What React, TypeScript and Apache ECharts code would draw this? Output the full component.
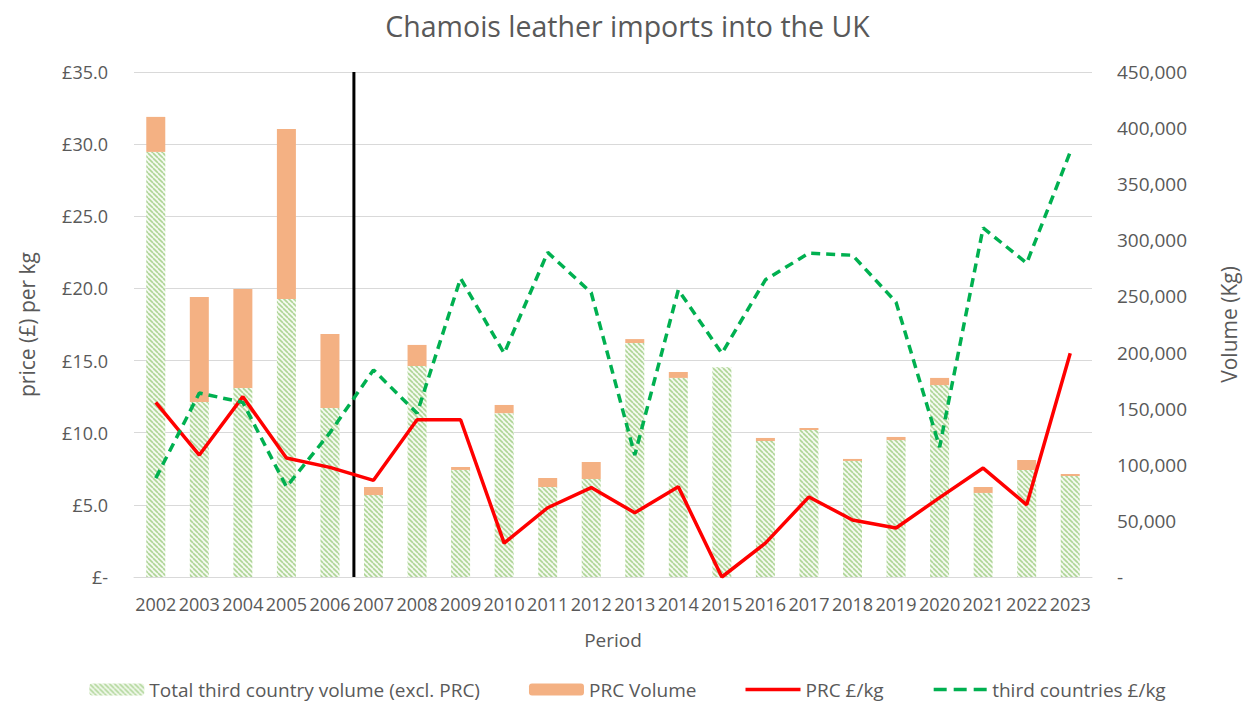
import React, { useEffect, useRef } from "react";
import * as echarts from "echarts";

const years = ["2002","2003","2004","2005","2006","2007","2008","2009","2010","2011","2012","2013","2014","2015","2016","2017","2018","2019","2020","2021","2022","2023"];
const thirdVolume = [378800,156000,168400,247800,150600,73000,188000,95400,146000,80200,87300,208500,177400,187000,121200,131000,103400,122000,171000,74900,95400,90000];
const prcVolume = [31200,93600,88300,151500,66000,7200,18800,2600,7300,8000,15200,3500,5300,0,2700,1800,1800,2800,6400,5300,8900,1800];
const prcPrice = [12.1,8.45,12.5,8.25,7.6,6.7,10.9,10.9,2.35,4.8,6.2,4.45,6.25,0,2.35,5.55,3.95,3.4,5.5,7.55,5.0,15.5];
const thirdPrice = [6.85,12.75,12.1,6.25,10.0,14.35,11.35,20.7,15.5,22.5,19.7,8.45,19.9,15.5,20.6,22.45,22.3,19.05,9.0,24.2,21.75,29.45];
// divider between 2006 and 2007 (category index position), spanning the full price axis
const dividerLine = [[4.55, 0], [4.55, 35]];

const FONT = "Open Sans";
const GREY = "#595959";

const solidIcon = "path://M0,0L0.01,0Z M0,12L0.01,12Z M0,4.3H55V7.7H0Z";
const dashIcon = "path://M0,0L0.01,0Z M0,12L0.01,12Z M1,4.3H14V7.7H1Z M21,4.3H34V7.7H21Z M41,4.3H54V7.7H41Z";

function makeHatch(): HTMLCanvasElement {
  const s = 5;
  const c = document.createElement("canvas");
  c.width = s;
  c.height = s;
  const ctx = c.getContext("2d")!;
  ctx.fillStyle = "#f5faf1";
  ctx.fillRect(0, 0, s, s);
  ctx.strokeStyle = "#aed596";
  ctx.lineWidth = 1.6;
  for (const k of [-s, 0, s]) {
    ctx.beginPath();
    ctx.moveTo(k, 0);
    ctx.lineTo(k + s, s);
    ctx.stroke();
  }
  return c;
}

export default function App() {
  const ref = useRef<HTMLDivElement>(null);
  useEffect(() => {
    if (!ref.current) return;
    const chart = echarts.init(ref.current, null, { renderer: "svg" });
    const hatch = { image: makeHatch(), repeat: "repeat" };
    chart.setOption({
      animation: false,
      backgroundColor: "#fff",
      textStyle: { fontFamily: FONT, color: GREY },
      title: {
        text: "Chamois leather imports into the UK",
        left: "center",
        top: 3,
        padding: 0,
        textStyle: { fontFamily: FONT, fontSize: 28.5, fontWeight: "normal", color: GREY },
      },
      legend: {
        bottom: 1,
        left: "center",
        itemWidth: 55,
        itemHeight: 12,
        itemGap: 49,
        textStyle: { fontFamily: FONT, fontSize: 19, color: GREY },
        data: [
          { name: "Total third country volume (excl. PRC)" },
          { name: "PRC Volume" },
          { name: "PRC £/kg", icon: solidIcon },
          { name: "third countries £/kg", icon: dashIcon },
        ],
      },
      grid: { left: 108, right: 134, top: 64, bottom: 128 },
      xAxis: [
        {
          type: "category",
          data: years,
          name: "Period",
          nameLocation: "middle",
          nameGap: 53,
          nameTextStyle: { fontFamily: FONT, fontSize: 19, color: GREY },
          axisLine: { lineStyle: { color: "#d9d9d9" } },
          axisTick: { show: false },
          axisLabel: { fontFamily: FONT, fontSize: 18, color: GREY, margin: 18, interval: 0 },
        },
        { type: "value", min: -0.5, max: 21.5, show: false },
      ],
      yAxis: [
        {
          type: "value",
          min: 0,
          max: 35,
          interval: 5,
          name: "price (£) per kg",
          nameLocation: "middle",
          nameGap: 97,
          nameTextStyle: { fontFamily: FONT, fontSize: 21, color: GREY },
          axisLine: { show: false },
          axisTick: { show: false },
          splitLine: { lineStyle: { color: "#d9d9d9" } },
          axisLabel: {
            fontFamily: FONT,
            fontSize: 18,
            color: GREY,
            margin: 26,
            formatter: (v: number) => (v === 0 ? "£-" : "£" + v.toFixed(1)),
          },
        },
        {
          type: "value",
          min: 0,
          max: 450000,
          interval: 50000,
          name: "Volume (Kg)",
          nameLocation: "middle",
          nameGap: 126,
          nameTextStyle: { fontFamily: FONT, fontSize: 21, color: GREY },
          axisLine: { show: false },
          axisTick: { show: false },
          splitLine: { show: false },
          axisLabel: {
            fontFamily: FONT,
            fontSize: 19,
            color: GREY,
            margin: 25,
            formatter: (v: number) => (v === 0 ? "-" : v.toLocaleString("en-US")),
          },
        },
      ],
      series: [
        {
          name: "Total third country volume (excl. PRC)",
          type: "bar",
          stack: "vol",
          yAxisIndex: 1,
          barWidth: 19,
          data: thirdVolume,
          itemStyle: { color: hatch },
        },
        {
          name: "PRC Volume",
          type: "bar",
          stack: "vol",
          yAxisIndex: 1,
          barWidth: 19,
          data: prcVolume,
          itemStyle: { color: "#f4b183" },
        },
        {
          name: "divider",
          type: "line",
          xAxisIndex: 1,
          yAxisIndex: 0,
          data: dividerLine,
          symbol: "none",
          silent: true,
          lineStyle: { color: "#000", width: 3 },
          itemStyle: { color: "#000" },
        },
        {
          name: "PRC £/kg",
          type: "line",
          yAxisIndex: 0,
          data: prcPrice,
          symbol: "none",
          lineStyle: { color: "#ff0000", width: 3.5 },
          itemStyle: { color: "#ff0000" },
        },
        {
          name: "third countries £/kg",
          type: "line",
          yAxisIndex: 0,
          data: thirdPrice,
          symbol: "none",
          lineStyle: { color: "#00b050", width: 3.5, type: [9, 6] },
          itemStyle: { color: "#00b050" },
        },
      ],
    });
    return () => chart.dispose();
  }, []);
  return <div ref={ref} style={{ width: 1239, height: 697 }} />;
}
